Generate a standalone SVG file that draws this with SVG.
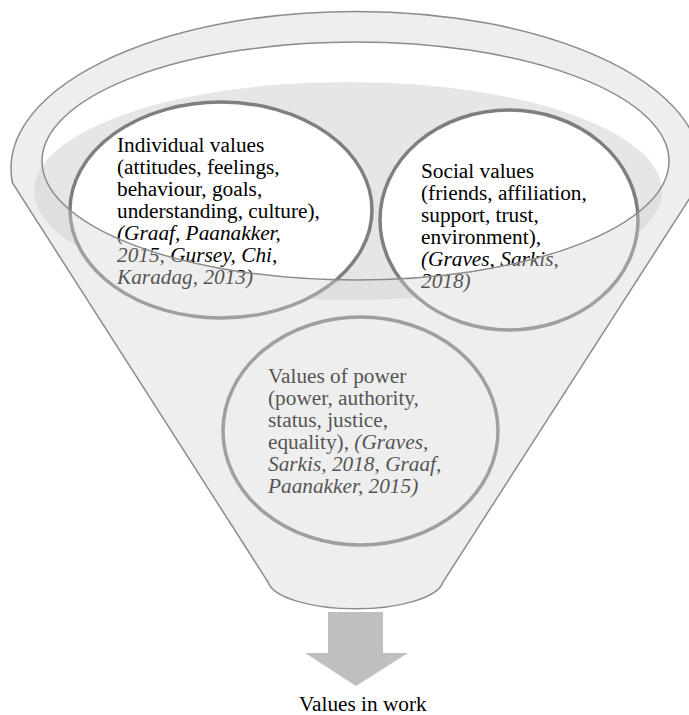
<svg xmlns="http://www.w3.org/2000/svg" width="689" height="715" viewBox="0 0 689 715">
<style>
text{font-family:"Liberation Serif","Times New Roman",serif;font-size:21.3px;fill:#000}
.it{font-style:italic}
.circ{fill:#fff;stroke:#7f7f7f;stroke-width:3.5}
.rim{fill:none;stroke:#8c8c8c;stroke-width:1.5}
</style>
<defs>
<path id="silhouette" d="M 12.5 183 A 345 157 0 1 1 699.5 183 L 443 582 A 88 30 0 0 1 268 582 Z"/>
</defs>
<g id="arrow">
<polygon points="328,612 383,612 383,653 408,653 356,686 305,653 328,653" fill="#bfbfbf"/>
</g>
<g id="funnel-back">
<use href="#silhouette" fill="#fff"/>
<ellipse cx="348" cy="191" rx="314" ry="109" fill="#e6e6e6"/>
</g>
<g id="individual">
<ellipse class="circ" cx="221" cy="210" rx="151" ry="108"/>
<text x="117" y="152">Individual values</text>
<text x="117" y="174">(attitudes, feelings,</text>
<text x="117" y="196">behaviour, goals,</text>
<text x="117" y="218">understanding, culture),</text>
<text x="117" y="240" class="it">(Graaf, Paanakker,</text>
<text x="117" y="262" class="it">2015, Gursey, Chi,</text>
<text x="117" y="284" class="it">Karadag, 2013)</text>
</g>
<g id="social">
<ellipse class="circ" cx="509" cy="220" rx="129" ry="110"/>
<text x="421" y="178">Social values</text>
<text x="421" y="200">(friends, affiliation,</text>
<text x="421" y="222">support, trust,</text>
<text x="421" y="244">environment),</text>
<text x="421" y="266" class="it">(Graves, Sarkis,</text>
<text x="421" y="288" class="it">2018)</text>
</g>
<g id="power">
<ellipse class="circ" cx="360.5" cy="431" rx="137.5" ry="114"/>
<text x="268" y="383">Values of power</text>
<text x="268" y="405">(power, authority,</text>
<text x="268" y="427">status, justice,</text>
<text x="268" y="449">equality), <tspan class="it">(Graves,</tspan></text>
<text x="268" y="471" class="it">Sarkis, 2018, Graaf,</text>
<text x="268" y="493" class="it">Paanakker, 2015)</text>
</g>
<g id="funnel-front">
<path d="M 12.5 183 A 345 157 0 1 1 699.5 183 L 443 582 A 88 30 0 0 1 268 582 Z M 42 161 A 313.5 119 0 1 0 669 161 A 313.5 119 0 1 0 42 161 Z" fill="#d3d3d3" fill-opacity="0.39" fill-rule="evenodd"/>
<use href="#silhouette" class="rim"/>
<ellipse class="rim" cx="355.5" cy="161" rx="313.5" ry="119"/>
</g>
<g id="label">
<text x="299" y="711">Values in work</text>
</g>
</svg>
